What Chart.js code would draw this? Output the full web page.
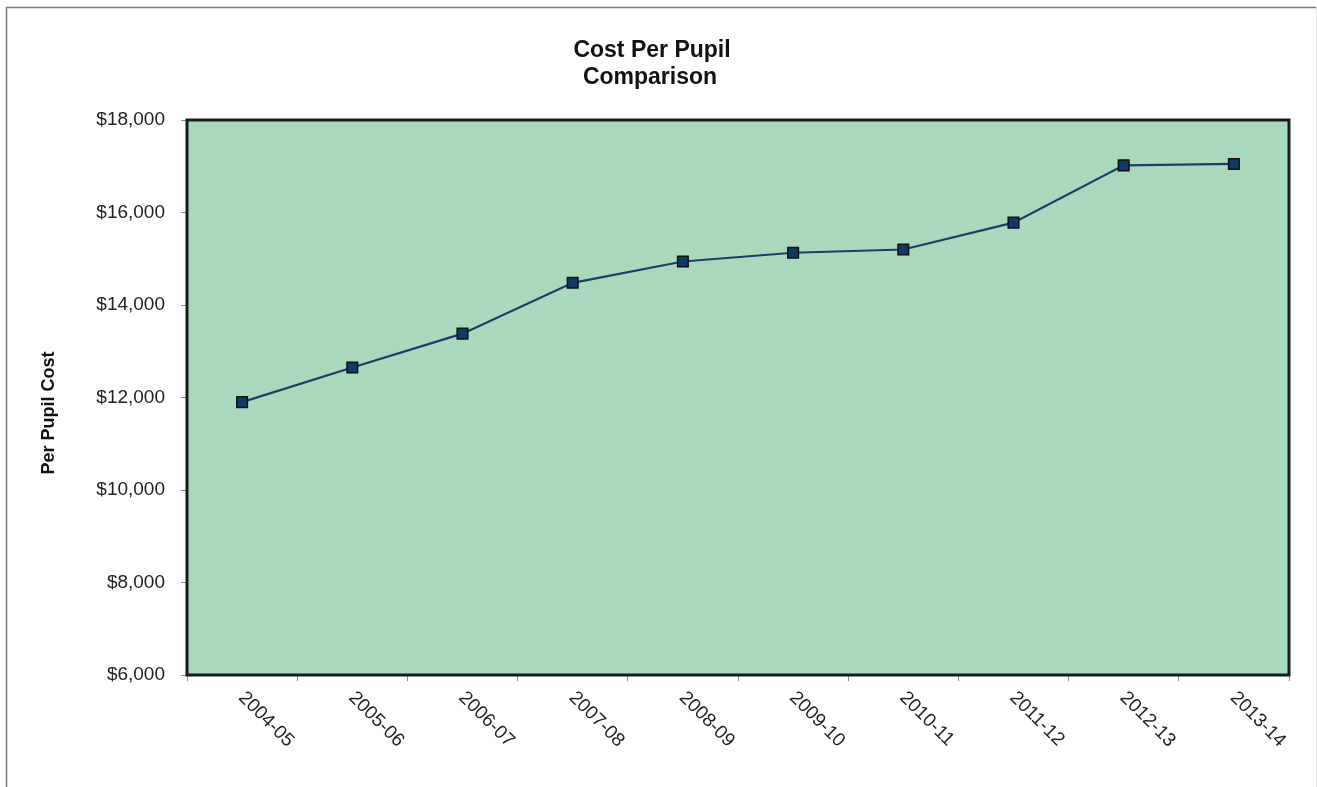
<!DOCTYPE html>
<html>
<head>
<meta charset="utf-8">
<script src="https://cdn.jsdelivr.net/npm/chart.js@4/dist/chart.umd.min.js"></script>
<style>
  html, body { margin: 0; padding: 0; background: #fff; }
  #wrap { width: 1317px; height: 787px; position: relative; }
</style>
</head>
<body>
<div id="wrap"><canvas id="grafico"></canvas></div>
<script>
// dados do grafico
const anos = ['2004-05', '2005-06', '2006-07', '2007-08', '2008-09', '2009-10', '2010-11', '2011-12', '2012-13', '2013-14'];
const custoPorAluno = [11900, 12650, 13380, 14480, 14940, 15130, 15200, 15780, 17020, 17050];
const tituloLinhas = ['Cost Per Pupil', 'Comparison'];
const tituloEixoY = 'Per Pupil Cost';
const eixoYMin = 6000;
const eixoYMax = 18000;
const eixoYPasso = 2000;

const fonte = "'Liberation Sans', Arial, sans-serif";

// fundo, borda, titulo e rotulos do eixo x
const desenhoExtra = {
    id: 'desenhoExtra',
    beforeDraw(chart) {
        const ctx = chart.ctx;
        const a = chart.chartArea;
        ctx.save();
        ctx.fillStyle = '#a8d9bc';
        ctx.fillRect(a.left, a.top, a.right - a.left, a.bottom - a.top);
        // borda externa
        ctx.strokeStyle = '#7a7a7a';
        ctx.lineWidth = 1.5;
        ctx.beginPath();
        ctx.moveTo(6.5, 800);
        ctx.lineTo(6.5, 7.5);
        ctx.lineTo(1316, 7.5);
        ctx.stroke();
        ctx.strokeStyle = '#e4e4e4';
        ctx.lineWidth = 1;
        ctx.beginPath();
        ctx.moveTo(1316.5, 8);
        ctx.lineTo(1316.5, 800);
        ctx.stroke();
        ctx.restore();
    },
    afterDatasetsDraw(chart) {
        const ctx = chart.ctx;
        const a = chart.chartArea;
        ctx.save();
        ctx.strokeStyle = '#1a1a1a';
        ctx.lineWidth = 3;
        ctx.strokeRect(a.left, a.top, a.right - a.left, a.bottom - a.top);
        ctx.restore();
    },
    afterDraw(chart) {
        const ctx = chart.ctx;
        const xScale = chart.scales.x;
        ctx.save();
        ctx.fillStyle = '#111';
        ctx.font = 'bold 23px ' + fonte;
        ctx.textAlign = 'center';
        ctx.textBaseline = 'middle';
        ctx.fillText(tituloLinhas[0], 652, 51);
        ctx.fillText(tituloLinhas[1], 650, 78);

        ctx.font = 'bold 18px ' + fonte;
        ctx.translate(49, 413);
        ctx.rotate(-Math.PI / 2);
        ctx.fillText(tituloEixoY, 0, 0);
        ctx.restore();

        ctx.save();
        ctx.fillStyle = '#222';
        ctx.font = '19px ' + fonte;
        ctx.textAlign = 'left';
        ctx.textBaseline = 'top';
        for (let i = 0; i < anos.length; i++) {
            const x = xScale.getPixelForTick(i);
            ctx.save();
            ctx.translate(x + 6, 688);
            ctx.rotate(Math.PI / 4);
            ctx.fillText(anos[i], 0, 0);
            ctx.restore();
        }
        ctx.restore();
    }
};

const config = {
    type: 'line',
    data: {
        labels: anos,
        datasets: [{
            data: custoPorAluno,
            borderColor: '#1c3d68',
            borderWidth: 2.2,
            tension: 0,
            pointStyle: 'rect',
            pointRadius: 7.5,
            pointHoverRadius: 7.5,
            pointBackgroundColor: '#0f3a66',
            pointBorderColor: '#101010',
            pointBorderWidth: 1.5
        }]
    },
    options: {
        responsive: false,
        animation: false,
        devicePixelRatio: 1,
        layout: {
            padding: { top: 120, bottom: 106, left: 40, right: 28 }
        },
        plugins: {
            legend: { display: false },
            tooltip: { enabled: false },
            title: { display: false }
        },
        scales: {
            x: {
                offset: true,
                grid: {
                    offset: true,
                    drawOnChartArea: false,
                    drawTicks: true,
                    tickLength: 6,
                    color: '#8a8a8a'
                },
                border: { display: false },
                ticks: { display: false }
            },
            y: {
                min: eixoYMin,
                max: eixoYMax,
                afterFit(scale) {
                    scale.width = 147;
                },
                grid: {
                    drawOnChartArea: false,
                    drawTicks: true,
                    tickLength: 6,
                    color: '#8a8a8a'
                },
                border: { display: false },
                ticks: {
                    stepSize: eixoYPasso,
                    padding: 16,
                    color: '#222',
                    font: { family: fonte, size: 19 },
                    callback: (v) => '$' + v.toLocaleString('en-US')
                }
            }
        }
    },
    plugins: [desenhoExtra]
};

const canvas = document.getElementById('grafico');
canvas.width = 1317;
canvas.height = 787;
window.meuGrafico = new Chart(canvas, config);
</script>
</body>
</html>
